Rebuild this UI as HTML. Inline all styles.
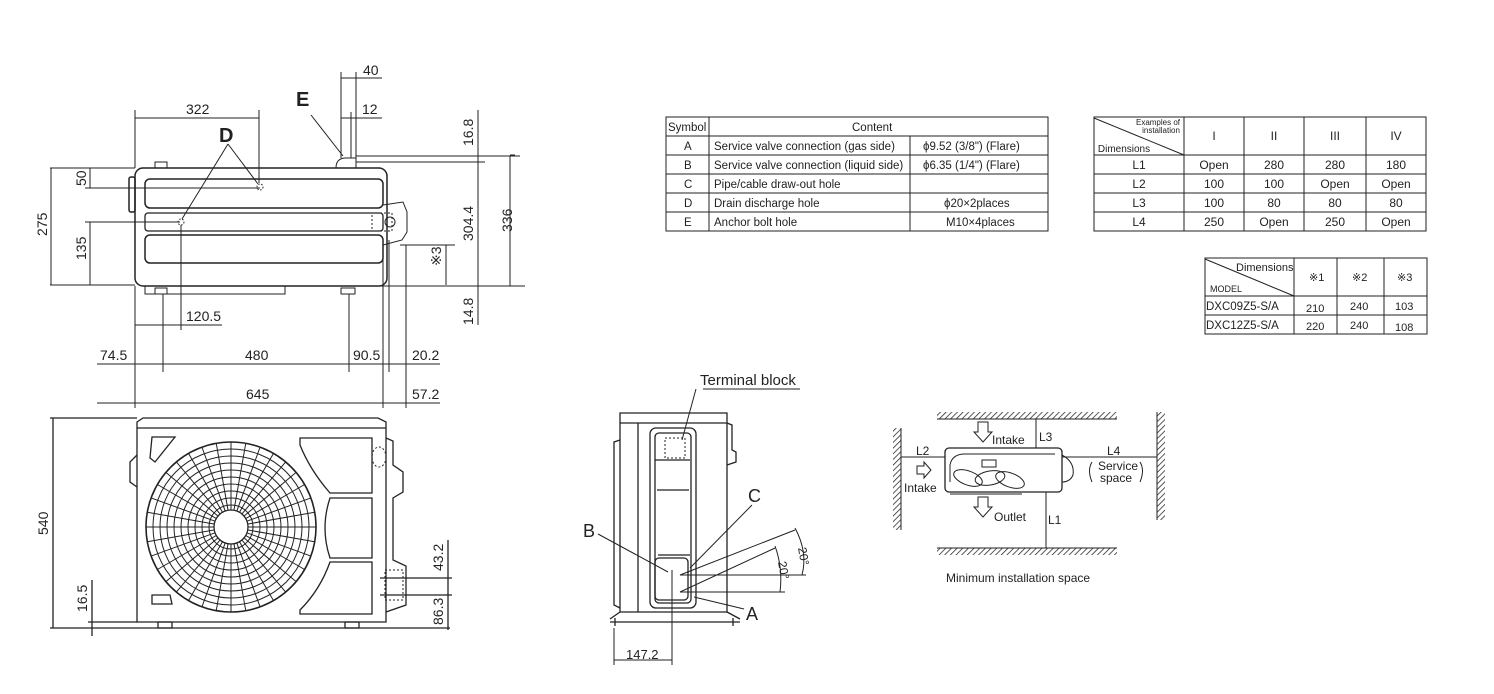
<!DOCTYPE html>
<html><head><meta charset="utf-8"><style>
html,body{margin:0;padding:0;background:#fff}
svg{display:block}
text{font-family:"Liberation Sans",sans-serif;fill:#222}
</style></head><body>
<svg width="1494" height="694" viewBox="0 0 1494 694" xmlns="http://www.w3.org/2000/svg">
<defs>
<pattern id="hatch" width="4" height="4" patternUnits="userSpaceOnUse" patternTransform="rotate(45)"><line x1="0" y1="0" x2="0" y2="4" stroke="#222" stroke-width="1.5"/></pattern>
<line id="ray" x1="146" y1="527" x2="316" y2="527" stroke="#222" stroke-width="1"/>
</defs>
<g fill="none" stroke="#222" stroke-width="1">
<rect x="135" y="168" width="252" height="118" rx="8" stroke-width="1.5"/>
<rect x="145" y="179" width="238" height="29" rx="5" stroke-width="1.5"/>
<rect x="145" y="213" width="238" height="18" rx="3" stroke-width="1.3"/>
<rect x="145" y="235" width="238" height="28" rx="5" stroke-width="1.5"/>
<rect x="129" y="177" width="6" height="35" rx="2" stroke-width="1.5"/>
<path d="M383 205 L403 202 L407 212 L407 232 L402 240 L383 245"/>
<rect x="372" y="213" width="20" height="18" stroke-dasharray="2,2"/>
<circle cx="390" cy="222" r="5"/>
<path d="M155 162 h12 v6 h-12z"/>
<path d="M145 286 h140 v8 h-140z"/>
<path d="M155 288 h12 v6 h-12z"/>
<path d="M341 288 h14 v6 h-14z"/>
<path d="M336 168 q0 -10 10 -10 h10 v10"/>
<circle cx="260" cy="187" r="3" stroke-dasharray="1.5,1.5"/>
<circle cx="181" cy="222" r="3" stroke-dasharray="1.5,1.5"/>
<path d="M228 144 L258 184 M228 144 L182 219"/>
<path d="M311 115 L343 156"/>
<path d="M135 118 H259 M135 110 V168 M259 110 V183"/>
<path d="M341 78 H382 M341 72 V158 M356 72 V158 M341 118 H382 M351 112 V158"/>
<path d="M356 156 H485 M356 162 H485 M478 110 V325 M515 155 H510 M357 286 H525 M510 156 V286 M450 245 H455"/>
<path d="M390 156 H520"/>
<path d="M50 168 H135 M50 285 H135 M51 168 V285"/>
<path d="M85 188 H260 M90 168 V188 M85 222 H180 M90 222 V285"/>
<path d="M400 245 H450 M446 245 V285"/>
<path d="M135 286 V408 M163 294 V372 M181 225 V330 M135 325 H222 M349 294 V372 M383 240 V408 M389 240 V372 M406 245 V408"/>
<path d="M97 364 H440 M97 403 H440"/>
</g>
<g font-size="14">
<text x="186" y="114">322</text>
<text x="363" y="75">40</text>
<text x="362" y="114">12</text>
<text x="186" y="321">120.5</text>
<text x="100" y="360">74.5</text>
<text x="245" y="360">480</text>
<text x="353" y="360">90.5</text>
<text x="412" y="360">20.2</text>
<text x="246" y="399">645</text>
<text x="412" y="399">57.2</text>
<text transform="translate(47 236) rotate(-90)">275</text>
<text transform="translate(86 186) rotate(-90)">50</text>
<text transform="translate(86 260) rotate(-90)">135</text>
<text transform="translate(473 146) rotate(-90)">16.8</text>
<text transform="translate(473 241) rotate(-90)">304.4</text>
<text transform="translate(512 232) rotate(-90)">336</text>
<text transform="translate(441 266) rotate(-90)">※3</text>
<text transform="translate(473 325) rotate(-90)">14.8</text>
</g>
<text x="219" y="142" font-size="20" font-weight="bold">D</text>
<text x="296" y="106" font-size="20" font-weight="bold">E</text>

<g fill="none" stroke="#222" stroke-width="1.3">
<path d="M137 422 L143 418 H378 L386 422 V622 H137 Z"/>
<path d="M137 428 H386"/>
<path d="M386 438 L393 441 V465 L403 472 V492 L393 498 V560 L406 566 V605 L386 612"/>
<path d="M137 455 L130 462 V482 L137 487"/>
<path d="M152 437 H175 L155 462 L150 458 Z"/>
<path d="M152 595 H170 L172 604 H152 Z"/>
<path d="M300 438 H372 V493 H330 Q310 470 300 445 Z"/>
<path d="M330 498 H372 V558 H330 Q320 528 330 498 Z"/>
<path d="M300 614 H372 V562 H330 Q320 590 300 610 Z"/>
<ellipse cx="379" cy="457" rx="7" ry="10" stroke-dasharray="2,2" stroke-width="1"/>
<path d="M158 622 h14 v6 h-14z M345 622 h14 v6 h-14z"/>
<path d="M50 418 H137 M53 418 V628 M50 628 H450 M88 622 H137 M92 580 V636"/>
<path d="M380 578 H452 M380 595 H452 M448 540 V630"/>
<rect x="385" y="570" width="18" height="30" stroke-dasharray="2,2" stroke-width="1"/>
</g>
<g fill="none" stroke="#222" stroke-width="1">
<circle cx="231" cy="527" r="85" stroke-width="1.6"/>
<circle cx="231" cy="527" r="78"/><circle cx="231" cy="527" r="71"/><circle cx="231" cy="527" r="64"/>
<circle cx="231" cy="527" r="57"/><circle cx="231" cy="527" r="50"/><circle cx="231" cy="527" r="43"/>
<circle cx="231" cy="527" r="36"/><circle cx="231" cy="527" r="29"/><circle cx="231" cy="527" r="22"/>
<use href="#ray"/>
<use href="#ray" transform="rotate(10 231 527)"/><use href="#ray" transform="rotate(20 231 527)"/>
<use href="#ray" transform="rotate(30 231 527)"/><use href="#ray" transform="rotate(40 231 527)"/>
<use href="#ray" transform="rotate(50 231 527)"/><use href="#ray" transform="rotate(60 231 527)"/>
<use href="#ray" transform="rotate(70 231 527)"/><use href="#ray" transform="rotate(80 231 527)"/>
<use href="#ray" transform="rotate(90 231 527)"/><use href="#ray" transform="rotate(100 231 527)"/>
<use href="#ray" transform="rotate(110 231 527)"/><use href="#ray" transform="rotate(120 231 527)"/>
<use href="#ray" transform="rotate(130 231 527)"/><use href="#ray" transform="rotate(140 231 527)"/>
<use href="#ray" transform="rotate(150 231 527)"/><use href="#ray" transform="rotate(160 231 527)"/>
<use href="#ray" transform="rotate(170 231 527)"/>
<circle cx="231" cy="527" r="17" fill="#fff" stroke-width="1.3"/>
</g>
<g font-size="14">
<text transform="translate(48 535) rotate(-90)">540</text>
<text transform="translate(87 612) rotate(-90)">16.5</text>
<text transform="translate(443 571) rotate(-90)">43.2</text>
<text transform="translate(443 625) rotate(-90)">86.3</text>
</g>

<g fill="none" stroke="#222" stroke-width="1.3">
<path d="M620 413 H727 V612 H620 Z M638 423 V612 M620 423 H727"/>
<path d="M727 423 L732 425 V450 L736 452 V462 L727 465"/>
<path d="M620 440 L614 442 V605 L620 608"/>
<path d="M610 622 H740 M620 612 L610 619 M727 612 L740 619 M615 618 V626 M733 618 V626"/>
<rect x="650" y="428" width="46" height="180" rx="6"/>
<rect x="655" y="433" width="36" height="170" rx="4"/>
<rect x="665" y="438" width="20" height="20" stroke-dasharray="2,2" stroke-width="1"/>
<path d="M655 460 H690 M657 490 H689 M658 555 H690"/>
<rect x="655" y="558" width="33" height="42" rx="4"/>
</g>
<g fill="none" stroke="#222" stroke-width="1">
<path d="M703 389 H800 M696 389 L682 440"/>
<path d="M598 534 L668 572 M752 505 L690 568 M694 597 L744 609"/>
<path d="M680 575 L795 530 M680 592 L775 548 M680 575 H806 M680 592 H785"/>
<path d="M795 528 Q808 552 802 575 M775 546 Q783 568 780 592"/>
<path d="M672 570 V665 M614 628 V665 M614 660 H672"/>
</g>
<text x="700" y="385" font-size="15">Terminal block</text>
<text x="583" y="537" font-size="18">B</text>
<text x="748" y="502" font-size="18">C</text>
<text x="746" y="620" font-size="18">A</text>
<text x="626" y="659" font-size="13">147.2</text>
<text transform="translate(798 548) rotate(80)" font-size="12">20°</text>
<text transform="translate(778 562) rotate(80)" font-size="12">20°</text>

<rect x="937" y="412" width="180" height="7" fill="url(#hatch)"/>
<rect x="937" y="548" width="180" height="7" fill="url(#hatch)"/>
<rect x="893" y="428" width="8" height="102" fill="url(#hatch)"/>
<rect x="1157" y="412" width="8" height="108" fill="url(#hatch)"/>
<g fill="none" stroke="#222" stroke-width="1">
<line x1="937" y1="419" x2="1117" y2="419"/><line x1="937" y1="548" x2="1117" y2="548"/>
<line x1="901" y1="428" x2="901" y2="530"/><line x1="1157" y1="412" x2="1157" y2="520"/>
<rect x="945" y="448" width="117" height="44" rx="4" stroke-width="1.3"/>
<path d="M1062 455 Q1075 462 1073 475 Q1070 482 1062 482"/>
<path d="M950 482 V465 Q952 454 965 454 H1055"/>
<ellipse cx="968" cy="478" rx="15" ry="7" transform="rotate(20 968 478)"/>
<ellipse cx="990" cy="478" rx="15" ry="7" transform="rotate(-10 990 478)"/>
<ellipse cx="1010" cy="480" rx="15" ry="7" transform="rotate(20 1010 480)"/>
<rect x="982" y="460" width="14" height="7"/>
<path d="M950 494 H1022"/>
<path d="M1036 419 V448 M1046 492 V548 M901 457 H945 M1062 457 H1157"/>
<path d="M978 422 H988 V432 H992 L983 442 L974 432 H978 Z"/>
<path d="M978 497 H988 V507 H992 L983 517 L974 507 H978 Z"/>
<path d="M917 466 H924 V462 L931 470 L924 478 V474 H917 Z"/>
<path d="M1092 462 Q1087 470 1092 482 M1140 462 Q1145 470 1140 482"/>
</g>
<g font-size="12">
<text x="992" y="444">Intake</text>
<text x="1039" y="441">L3</text>
<text x="916" y="455">L2</text>
<text x="1107" y="455">L4</text>
<text x="904" y="492">Intake</text>
<text x="1098" y="470">Service</text>
<text x="1100" y="482">space</text>
<text x="994" y="521">Outlet</text>
<text x="1048" y="524">L1</text>
<text x="946" y="582">Minimum installation space</text>
</g>

<g fill="none" stroke="#222" stroke-width="1">
<rect x="666" y="117" width="382" height="114"/>
<path d="M666 136 H1048 M666 155 H1048 M666 174 H1048 M666 193 H1048 M666 212 H1048 M709 117 V231 M910 136 V231"/>
</g>
<g font-size="11.5">
<text x="668" y="131">Symbol</text>
<text x="852" y="131">Content</text>
<text x="684" y="150">A</text><text x="684" y="169">B</text><text x="684" y="188">C</text><text x="684" y="207">D</text><text x="684" y="226">E</text>
<text x="714" y="150">Service valve connection (gas side)</text>
<text x="714" y="169">Service valve connection (liquid side)</text>
<text x="714" y="188">Pipe/cable draw-out hole</text>
<text x="714" y="207">Drain discharge hole</text>
<text x="714" y="226">Anchor bolt hole</text>
<text x="923" y="150">ϕ9.52 (3/8") (Flare)</text>
<text x="923" y="169">ϕ6.35 (1/4") (Flare)</text>
<text x="944" y="207">ϕ20×2places</text>
<text x="946" y="226">M10×4places</text>
</g>

<g fill="none" stroke="#222" stroke-width="1">
<rect x="1094" y="117" width="332" height="114"/>
<path d="M1094 155 H1426 M1094 174 H1426 M1094 193 H1426 M1094 212 H1426 M1184 117 V231 M1244 117 V231 M1304 117 V231 M1366 117 V231 M1094 118 L1184 155"/>
</g>
<g font-size="12" text-anchor="middle">
<text x="1158" y="125" font-size="8">Examples of</text>
<text x="1161" y="133" font-size="8">installation</text>
<text x="1124" y="152" font-size="10">Dimensions</text>
<text x="1214" y="140" font-family="Liberation Serif">I</text>
<text x="1274" y="140" font-family="Liberation Serif">II</text>
<text x="1335" y="140" font-family="Liberation Serif">III</text>
<text x="1396" y="140" font-family="Liberation Serif">IV</text>
<text x="1139" y="169">L1</text><text x="1214" y="169">Open</text><text x="1274" y="169">280</text><text x="1335" y="169">280</text><text x="1396" y="169">180</text>
<text x="1139" y="188">L2</text><text x="1214" y="188">100</text><text x="1274" y="188">100</text><text x="1335" y="188">Open</text><text x="1396" y="188">Open</text>
<text x="1139" y="207">L3</text><text x="1214" y="207">100</text><text x="1274" y="207">80</text><text x="1335" y="207">80</text><text x="1396" y="207">80</text>
<text x="1139" y="226">L4</text><text x="1214" y="226">250</text><text x="1274" y="226">Open</text><text x="1335" y="226">250</text><text x="1396" y="226">Open</text>
</g>

<g fill="none" stroke="#222" stroke-width="1">
<rect x="1205" y="258" width="222" height="76"/>
<path d="M1205 296 H1427 M1205 315 H1427 M1294 258 V334 M1337 258 V334 M1384 258 V334 M1205 259 L1294 296"/>
</g>
<g font-size="11">
<text x="1236" y="271">Dimensions</text>
<text x="1210" y="292" font-size="9">MODEL</text>
<text x="1309" y="281">※1</text><text x="1352" y="281">※2</text><text x="1397" y="281">※3</text>
<text x="1206" y="310" font-size="11.5">DXC09Z5-S/A</text>
<text x="1206" y="329" font-size="11.5">DXC12Z5-S/A</text>
<text x="1306" y="312">210</text><text x="1350" y="310">240</text><text x="1395" y="310">103</text>
<text x="1306" y="330">220</text><text x="1350" y="329">240</text><text x="1395" y="331">108</text>
</g>
</svg>
</body></html>
